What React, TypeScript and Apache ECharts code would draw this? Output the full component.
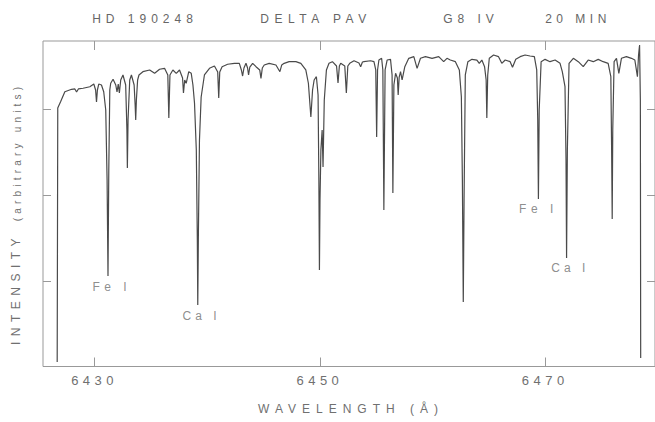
import React, { useEffect, useRef } from "react";
import * as echarts from "echarts";

const wavelengths = [
  6426.68, 6426.73, 6426.98, 6427.36, 6427.96, 6428.25, 6428.40, 6428.56, 6428.98, 6429.58,
  6429.93, 6430.09, 6430.17, 6430.25, 6430.37, 6430.61, 6430.81, 6430.99, 6431.11, 6431.19,
  6431.26, 6431.35, 6431.43, 6431.64, 6431.88, 6431.99, 6432.10, 6432.20, 6432.32, 6432.52,
  6432.76, 6432.87, 6432.91, 6432.97, 6433.12, 6433.27, 6433.51, 6433.60, 6433.65, 6433.71,
  6433.82, 6433.94, 6434.29, 6434.89, 6435.33, 6435.77, 6436.21, 6436.50, 6436.59, 6436.69,
  6436.95, 6437.25, 6437.54, 6437.81, 6437.89, 6438.00, 6438.13, 6438.36, 6438.58, 6438.73,
  6438.87, 6439.03, 6439.12, 6439.16, 6439.21, 6439.31, 6439.46, 6439.75, 6440.20, 6440.64,
  6440.93, 6441.02, 6441.11, 6441.32, 6441.81, 6442.41, 6442.85, 6443.03, 6443.14, 6443.26,
  6443.44, 6443.58, 6443.67, 6443.78, 6444.03, 6444.33, 6444.66, 6444.77, 6444.89, 6445.06,
  6445.50, 6446.10, 6446.45, 6446.61, 6446.83, 6447.27, 6447.87, 6448.31, 6448.75, 6448.98,
  6449.20, 6449.35, 6449.49, 6449.69, 6449.84, 6449.91, 6449.96, 6450.01, 6450.09, 6450.20,
  6450.28, 6450.39, 6450.58, 6450.81, 6451.11, 6451.48, 6451.61, 6451.73, 6451.85, 6452.21,
  6452.35, 6452.48, 6452.65, 6453.03, 6453.47, 6453.62, 6453.78, 6453.91, 6454.50, 6454.80,
  6454.96, 6455.04, 6455.12, 6455.24, 6455.48, 6455.59, 6455.68, 6455.79, 6455.97, 6456.27,
  6456.41, 6456.48, 6456.57, 6456.72, 6456.88, 6456.95, 6457.04, 6457.16, 6457.30, 6457.54,
  6457.89, 6458.34, 6458.63, 6458.93, 6459.37, 6459.96, 6460.55, 6460.99, 6461.28, 6461.58,
  6462.03, 6462.38, 6462.56, 6462.65, 6462.73, 6462.80, 6462.91, 6463.14, 6463.50, 6463.94,
  6464.15, 6464.38, 6464.62, 6464.76, 6464.82, 6464.90, 6465.04, 6465.42, 6465.86, 6466.15,
  6466.45, 6466.89, 6467.10, 6467.39, 6467.78, 6468.22, 6468.66, 6469.04, 6469.25, 6469.34,
  6469.40, 6469.47, 6469.64, 6469.99, 6470.43, 6470.88, 6471.32, 6471.52, 6471.76, 6471.85,
  6471.90, 6471.97, 6472.12, 6472.50, 6472.94, 6473.38, 6473.82, 6474.27, 6474.71, 6475.15,
  6475.59, 6475.83, 6475.90, 6475.95, 6476.00, 6476.12, 6476.33, 6476.54, 6476.77, 6477.21,
  6477.66, 6477.96, 6478.19, 6478.29, 6478.38, 6478.45, 6478.48,
];

const intensities = [
  0.069, 3.011, 3.083, 3.199, 3.227, 3.231, 3.196, 3.231, 3.239, 3.257,
  3.288, 3.219, 3.080, 3.219, 3.288, 3.277, 3.199, 2.987, 2.177, 1.065,
  2.293, 3.219, 3.297, 3.343, 3.277, 3.196, 3.288, 3.184, 3.335, 3.393,
  3.277, 2.756, 2.316, 2.872, 3.335, 3.393, 3.277, 3.045, 2.872, 3.103,
  3.335, 3.393, 3.431, 3.451, 3.412, 3.459, 3.470, 3.393, 2.895, 3.393,
  3.451, 3.412, 3.451, 3.358, 3.184, 3.335, 3.297, 3.431, 3.412, 3.277,
  3.068, 2.524, 1.482, 0.729, 1.482, 2.640, 3.138, 3.393, 3.470, 3.497,
  3.427, 3.126, 3.427, 3.489, 3.517, 3.528, 3.528, 3.451, 3.381, 3.474,
  3.528, 3.474, 3.393, 3.485, 3.528, 3.489, 3.451, 3.354, 3.474, 3.508,
  3.528, 3.508, 3.431, 3.508, 3.528, 3.547, 3.547, 3.528, 3.451, 3.297,
  2.906, 3.219, 3.335, 3.373, 3.161, 2.177, 1.134, 1.945, 2.524, 2.756,
  2.327, 3.103, 3.451, 3.528, 3.547, 3.497, 3.300, 3.497, 3.528, 3.497,
  3.184, 3.497, 3.528, 3.558, 3.532, 3.489, 3.543, 3.547, 3.558, 3.547,
  3.451, 2.675, 3.451, 3.566, 3.586, 3.451, 1.829, 3.451, 3.566, 3.574,
  3.393, 2.026, 3.277, 3.412, 3.358, 3.161, 3.369, 3.431, 3.335, 3.489,
  3.586, 3.605, 3.470, 3.586, 3.605, 3.586, 3.605, 3.547, 3.586, 3.566,
  3.547, 3.451, 3.141, 2.177, 0.764, 1.945, 3.393, 3.547, 3.574, 3.566,
  3.528, 3.566, 3.489, 3.335, 2.895, 3.393, 3.586, 3.624, 3.605, 3.528,
  3.566, 3.547, 3.482, 3.574, 3.605, 3.624, 3.613, 3.605, 3.451, 2.872,
  1.957, 2.987, 3.547, 3.574, 3.547, 3.566, 3.528, 3.431, 3.257, 2.408,
  1.273, 2.524, 3.528, 3.586, 3.547, 3.489, 3.566, 3.547, 3.574, 3.547,
  3.528, 3.373, 2.524, 1.725, 2.756, 3.547, 3.586, 3.412, 3.586, 3.605,
  3.586, 3.566, 3.373, 3.624, 3.740, 3.103, 0.115,
];

const tickWavelengths = [6430, 6450, 6470];
const tickIntensities = [1, 2, 3];

const lineNames = ["Fe I", "Ca I", "Fe I", "Ca I"];
const lineLabelWavelengths = [6431.52, 6439.49, 6469.4, 6472.23];
const lineLabelIntensities = [0.94, 0.6, 1.84, 1.16];

const headerTexts = ["HD 190248", "DELTA PAV", "G8 IV", "20 MIN"];
const headerCenters = [145, 316, 471, 578];

const xTitle = "WAVELENGTH (Å)";
const yTitleMain = "INTENSITY";
const yTitleSub = "(arbitrary units)";

const FONT = '"Liberation Sans", Arial, sans-serif';
const TEXT_COLOR = "#707070";
const FRAME_COLOR = "#999";

const spacing: Record<string, number> = {
  "HD 190248": 5,
  "DELTA PAV": 5.5,
  "G8 IV": 5,
  "20 MIN": 4.5,
  "6430": 4.5,
  "6450": 4.5,
  "6470": 4.5,
  "WAVELENGTH (Å)": 6,
  INTENSITY: 5.5,
  "(arbitrary units)": 4.2,
  "Fe I": 4.5,
  "Ca I": 4,
};

export default function App() {
  const ref = useRef<HTMLDivElement>(null);

  useEffect(() => {
    const el = ref.current!;
    const chart = echarts.init(el, undefined, { renderer: "svg" });

    const xMin = 6425.42;
    const xMax = 6479.75;
    const yMin = 0.0168;
    const yMax = 3.7864;

    const headerGraphics = headerTexts.map((t, i) => ({
      type: "text",
      x: headerCenters[i],
      y: 19,
      style: {
        text: t,
        fill: "#666",
        font: `12px ${FONT}`,
        align: "center",
        verticalAlign: "middle",
        textAlign: "center",
        textVerticalAlign: "middle",
      },
    }));

    const option: any = {
      animation: false,
      backgroundColor: "#fff",
      grid: {
        left: 43,
        top: 41,
        right: -2,
        bottom: 55.5,
        show: true,
        borderColor: FRAME_COLOR,
        borderWidth: 1,
      },
      xAxis: [
        {
          type: "value",
          min: xMin,
          max: xMax,
          position: "bottom",
          axisLine: { show: false },
          splitLine: { show: false },
          axisTick: {
            inside: true,
            length: 9,
            customValues: tickWavelengths,
            lineStyle: { color: FRAME_COLOR },
          },
          axisLabel: {
            customValues: tickWavelengths,
            margin: 7,
            color: TEXT_COLOR,
            fontSize: 13,
            fontFamily: FONT,
            formatter: (v: number) => String(v),
          },
        },
        {
          type: "value",
          min: xMin,
          max: xMax,
          position: "top",
          axisLine: { show: false },
          splitLine: { show: false },
          axisTick: {
            inside: true,
            length: 9,
            customValues: tickWavelengths,
            lineStyle: { color: FRAME_COLOR },
          },
          axisLabel: { show: false },
        },
      ],
      yAxis: [
        {
          type: "value",
          min: yMin,
          max: yMax,
          position: "left",
          axisLine: { show: false },
          splitLine: { show: false },
          axisTick: {
            inside: true,
            length: 8,
            customValues: tickIntensities,
            lineStyle: { color: FRAME_COLOR },
          },
          axisLabel: { show: false },
        },
        {
          type: "value",
          min: yMin,
          max: yMax,
          position: "right",
          axisLine: { show: false },
          splitLine: { show: false },
          axisTick: {
            inside: true,
            length: 8,
            customValues: tickIntensities,
            lineStyle: { color: FRAME_COLOR },
          },
          axisLabel: { show: false },
        },
      ],
      graphic: [
        ...headerGraphics,
        {
          type: "text",
          x: 351,
          y: 409,
          style: {
            text: xTitle,
            fill: TEXT_COLOR,
            font: `12px ${FONT}`,
            align: "center",
            verticalAlign: "middle",
            textAlign: "center",
            textVerticalAlign: "middle",
          },
        },
        {
          type: "text",
          x: 16,
          y: 289,
          rotation: Math.PI / 2,
          style: {
            text: yTitleMain,
            fill: TEXT_COLOR,
            font: `12px ${FONT}`,
            align: "center",
            verticalAlign: "middle",
            textAlign: "center",
            textVerticalAlign: "middle",
          },
        },
        {
          type: "text",
          x: 17,
          y: 152,
          rotation: Math.PI / 2,
          style: {
            text: yTitleSub,
            fill: TEXT_COLOR,
            font: `10px ${FONT}`,
            align: "center",
            verticalAlign: "middle",
            textAlign: "center",
            textVerticalAlign: "middle",
          },
        },
      ],
      series: [
        {
          name: "spectrum",
          type: "line",
          xAxisIndex: 0,
          yAxisIndex: 0,
          data: wavelengths.map((w, i) => [w, intensities[i]]),
          showSymbol: false,
          symbol: "none",
          smooth: false,
          lineStyle: { color: "#4a4a4a", width: 1.2 },
          silent: true,
        },
        {
          name: "lines",
          type: "scatter",
          xAxisIndex: 0,
          yAxisIndex: 0,
          data: lineNames.map((n, i) => ({
            value: [lineLabelWavelengths[i], lineLabelIntensities[i]],
            name: n,
          })),
          symbol: "circle",
          symbolSize: 1,
          itemStyle: { color: "rgba(0,0,0,0)" },
          label: {
            show: true,
            position: "inside",
            formatter: (p: any) => p.name,
            color: TEXT_COLOR,
            fontSize: 12,
            fontFamily: FONT,
          },
          silent: true,
        },
      ],
    };

    chart.setOption(option);

    const applySpacing = () => {
      el.querySelectorAll("text").forEach((t) => {
        const s = spacing[(t.textContent || "").trim()];
        if (s !== undefined) t.setAttribute("letter-spacing", String(s));
      });
    };
    applySpacing();
    chart.on("finished", applySpacing);
    const raf = requestAnimationFrame(applySpacing);
    const to = setTimeout(applySpacing, 50);

    return () => {
      cancelAnimationFrame(raf);
      clearTimeout(to);
      chart.dispose();
    };
  }, []);

  return (
    <div
      ref={ref}
      style={{
        position: "absolute",
        left: 0,
        top: 0,
        width: 655,
        height: 422,
        background: "#fff",
      }}
    />
  );
}
